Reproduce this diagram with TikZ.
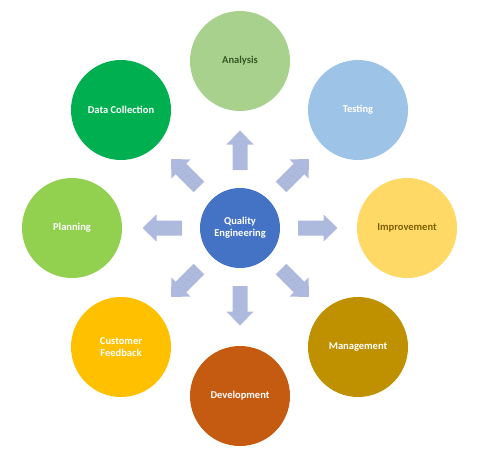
\documentclass[tikz,border=0pt]{standalone}
\usepackage{fontspec}
\setmainfont{Carlito}
\definecolor{arrowc}{RGB}{173,186,222}
\definecolor{centerc}{HTML}{4472C4}
\definecolor{analysisc}{HTML}{A9D18E}
\definecolor{analysist}{HTML}{385723}
\definecolor{testingc}{HTML}{9DC3E6}
\definecolor{improvc}{HTML}{FFD966}
\definecolor{improvt}{HTML}{7F6000}
\definecolor{managc}{HTML}{BF9000}
\definecolor{develc}{HTML}{C55A11}
\definecolor{custc}{HTML}{FFC000}
\definecolor{planc}{HTML}{92D050}
\definecolor{datac}{HTML}{00B050}
\begin{document}
\begin{tikzpicture}[x=1pt,y=-1pt,
  bubble/.style={circle,minimum size=100pt,inner sep=0pt,align=center,
     font=\fontsize{10.5}{12}\selectfont\bfseries,text=white},
  hub/.style={bubble,minimum size=80pt},
  blockarrow/.pic={\fill[arrowc] (58,-7.5) -- (83.5,-7.5) -- (83.5,-13.5) -- (97.5,0)
      -- (83.5,13.5) -- (83.5,7.5) -- (58,7.5) -- cycle;}]
\useasboundingbox (0,0) rectangle (486,457);
\node[hub,fill=centerc] (qe) at (240,228) {Quality\\Engineering};
\node[bubble,fill=analysisc,text=analysist] (an) at (240,61) {Analysis};
\node[bubble,fill=testingc] (te) at (358,110) {Testing};
\node[bubble,fill=improvc,text=improvt] (im) at (407,228) {Improvement};
\node[bubble,fill=managc] (ma) at (358,347) {Management};
\node[bubble,fill=develc] (de) at (240,396) {Development};
\node[bubble,fill=custc] (cf) at (121,347) {Customer\\Feedback};
\node[bubble,fill=planc] (pl) at (72,228) {Planning};
\node[bubble,fill=datac] (dc) at (121,110) {Data Collection};
\foreach \a in {0,45,90,135,180,225,270,315}
  \pic[rotate=\a] at (qe.center) {blockarrow};
\end{tikzpicture}
\end{document}
